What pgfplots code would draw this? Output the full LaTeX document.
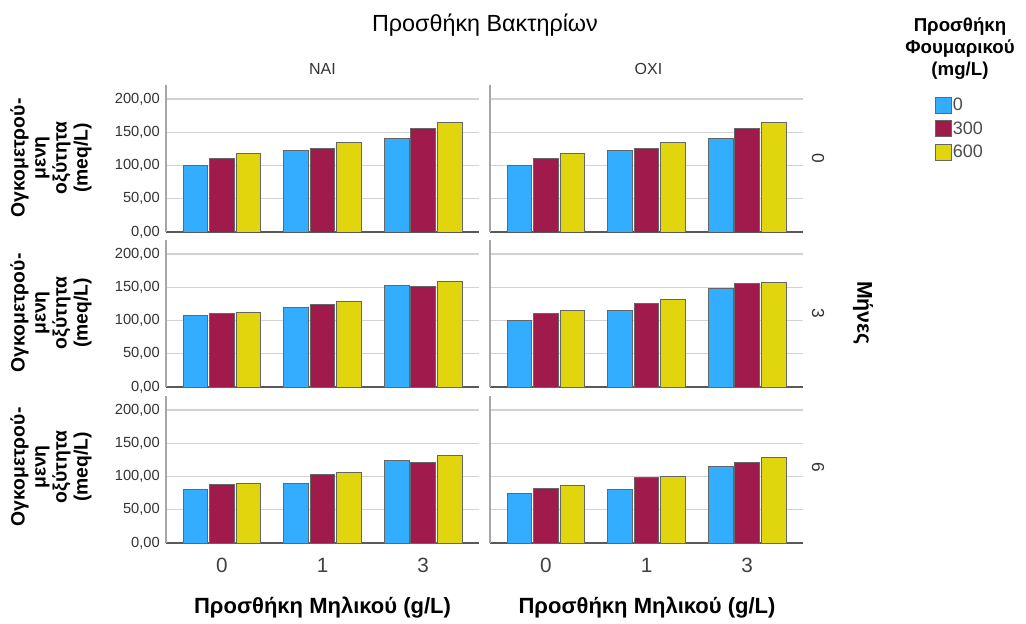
\documentclass[border=0pt]{standalone}
\usepackage{pgfplots}
\pgfplotsset{compat=1.18}
\usepackage{pgfplotstable}
\usepackage{fontspec}
\setmainfont{Liberation Sans}
\definecolor{cblue}{RGB}{51,173,255}
\definecolor{cmaroon}{RGB}{160,26,76}
\definecolor{cyellow}{RGB}{225,213,14}
\definecolor{gridc}{RGB}{210,210,210}

% columns: x, blue (0 mg/L), maroon (300 mg/L), yellow (600 mg/L)
\pgfplotstableread{
x b m y
0 100.5 110.5 117.5
1 123 125.5 134
2 140 155 165
}\tAA
\pgfplotstableread{
x b m y
0 100.5 110.5 117.5
1 123 125.5 134
2 140 155 165
}\tAB
\pgfplotstableread{
x b m y
0 108 110.5 112.5
1 119.5 123.5 128
2 153 151 159
}\tBA
\pgfplotstableread{
x b m y
0 100 110 114.5
1 115 126 132
2 147.5 155.5 157
}\tBB
\pgfplotstableread{
x b m y
0 80 87.5 90
1 89.5 102.5 106.5
2 123.5 121.5 132
}\tCA
\pgfplotstableread{
x b m y
0 75 81.5 86
1 80 98 99.5
2 115.5 121.5 128
}\tCB

\newcommand\bars[1]{%
  \addplot[fill=cblue, draw=black!60, line width=0.6pt, bar shift=-0.263] table[x=x,y=b]{#1};
  \addplot[fill=cmaroon, draw=black!60, line width=0.6pt, bar shift=0] table[x=x,y=m]{#1};
  \addplot[fill=cyellow, draw=black!60, line width=0.6pt, bar shift=0.263] table[x=x,y=y]{#1};
}

\pgfplotsset{
  panel/.style={
    scale only axis, width=234.75pt, height=110.25pt, anchor=south west,
    xmin=-0.555, xmax=2.555, ymin=0, ymax=221,
    axis x line*=bottom, axis y line*=left,
    x axis line style={black!65, line width=0.9pt, -},
    y axis line style={black!35, line width=0.9pt, -},
    ytick={0,50,100,150,200}, xtick={0,1,2},
    major tick length=0pt,
    ymajorgrids, grid style={gridc, line width=0.9pt},
    yticklabels={}, xticklabels={},
    ybar, bar width=0.245,
    /pgf/number format/assume math mode=true,
  },
  leftcol/.style={
    yticklabels={{0,00},{50,00},{100,00},{150,00},{200,00}},
    yticklabel style={font=\fontsize{11}{13}\selectfont, text=black!80, inner sep=0pt, xshift=-4.5pt},
  },
  botrow/.style={
    xticklabels={0,1,3},
    xticklabel style={font=\fontsize{15.5}{18}\selectfont, text=black!75, inner sep=0pt, anchor=north, yshift=-10.9pt},
  },
}

\begin{document}
\begin{tikzpicture}
\path[use as bounding box] (0pt,0pt) rectangle (769.5pt,-468pt);

\begin{axis}[panel, leftcol, at={(124.5pt,-174pt)}]
\bars{\tAA}
\end{axis}
\begin{axis}[panel, at={(367.5pt,-174pt)},
  legend entries={0,300,600},
  legend image code/.code={\draw[#1] (0pt,-6pt) rectangle (12pt,6pt);},
  legend style={at={(1.42,0.922)}, anchor=north west, draw=none, fill=none,
    font=\fontsize{13.5}{16}\selectfont, text=black!70, inner sep=0pt,
    row sep=4.6pt, nodes={inner sep=1pt, anchor=west}},
  legend cell align=left]
\bars{\tAB}
\end{axis}
\begin{axis}[panel, leftcol, at={(124.5pt,-290.25pt)}]
\bars{\tBA}
\end{axis}
\begin{axis}[panel, at={(367.5pt,-290.25pt)}]
\bars{\tBB}
\end{axis}
\begin{axis}[panel, leftcol, botrow, at={(124.5pt,-407.25pt)}]
\bars{\tCA}
\end{axis}
\begin{axis}[panel, botrow, at={(367.5pt,-407.25pt)}]
\bars{\tCB}
\end{axis}

\begin{scope}[x=0.75pt, y=-0.75pt]
\node[font=\fontsize{17.5}{20}\selectfont] at (485,25) {Προσθήκη Βακτηρίων};
\node[font=\fontsize{12}{14}\selectfont, text=black!80] at (322.5,69) {ΝΑΙ};
\node[font=\fontsize{12}{14}\selectfont, text=black!80] at (648.5,69) {ΟΧΙ};
\foreach \yy in {158,313,467}{
  \node[rotate=90, align=center, font=\bfseries\fontsize{14.5}{15.8}\selectfont] at (51,\yy) {Ογκομετρού-\\μενη\\οξύτητα\\(meq/L)};
}
\node[rotate=-90, font=\fontsize{13}{15}\selectfont, text=black!80] at (818,158) {0};
\node[rotate=-90, font=\fontsize{13}{15}\selectfont, text=black!80] at (818,313) {3};
\node[rotate=-90, font=\fontsize{13}{15}\selectfont, text=black!80] at (818,467) {6};
\node[rotate=-90, font=\bfseries\fontsize{16}{18}\selectfont] at (863,313) {Μήνες};
\node[font=\bfseries\fontsize{16.5}{19}\selectfont] at (322.5,608) {Προσθήκη Μηλικού (g/L)};
\node[font=\bfseries\fontsize{16.5}{19}\selectfont] at (647,608) {Προσθήκη Μηλικού (g/L)};
\node[align=center, font=\bfseries\fontsize{14}{16.5}\selectfont] at (960,49) {Προσθήκη\\Φουμαρικού\\(mg/L)};
\end{scope}
\end{tikzpicture}
\end{document}
